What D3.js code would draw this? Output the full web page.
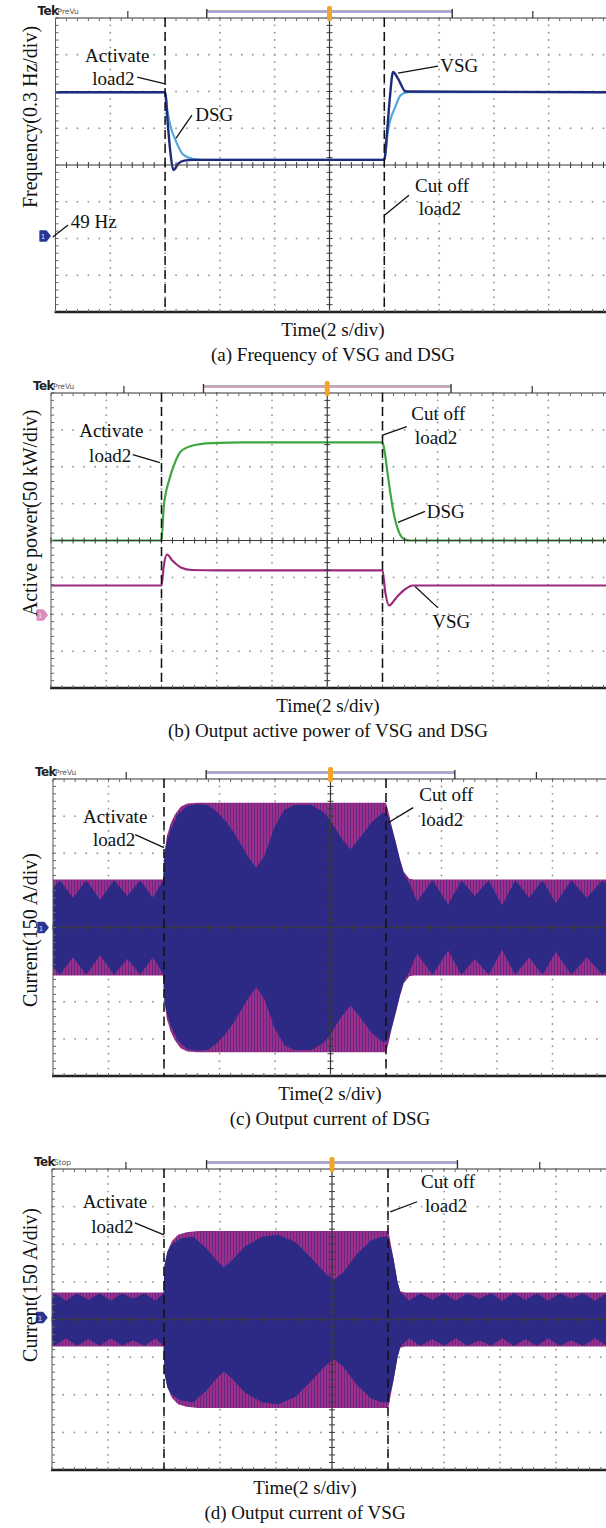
<!DOCTYPE html>
<html>
<head>
<meta charset="utf-8">
<script src="https://cdn.jsdelivr.net/npm/d3@7"></script>
<style>
  body { margin: 0; background: #fff; }
  text { font-family: "Liberation Serif", "Times New Roman", serif; }
</style>
</head>
<body>
<svg id="canvas" width="606" height="1528"></svg>
<script>
// time is in screen divisions (2 s/div), values in vertical divisions of each channel
// load2 is switched on at t = 2 div and off at t = 6 div
var events = [2, 6];

// (a) frequency, 0.3 Hz/div
var freqVSG = [[0,1.98],[2.0,1.98],[2.05,1.1],[2.1,0.3],[2.15,-0.14],[2.25,0.05],[2.35,0.12],[2.5,0.14],
  [6.0,0.14],[6.05,0.9],[6.1,1.8],[6.16,2.53],[6.25,2.35],[6.39,2.0],[10.2,1.98]];
var freqDSG = [[0,1.98],[2.0,1.98],[2.04,1.5],[2.1,1.05],[2.19,0.68],[2.32,0.3],[2.5,0.17],[2.7,0.14],
  [6.0,0.14],[6.07,0.95],[6.2,1.58],[6.3,1.9],[6.42,1.98],[10.2,1.98]];

// (b) active power, 50 kW/div
var powerDSG = [[0,0],[2.0,0],[2.04,0.9],[2.14,1.65],[2.24,2.1],[2.34,2.4],[2.55,2.57],[2.9,2.64],[3.5,2.66],
  [6.0,2.66],[6.04,2.4],[6.09,1.84],[6.2,0.76],[6.3,0.22],[6.4,0.03],[6.5,0],[10.2,0]];
var powerVSG = [[0,-1.22],[2.0,-1.22],[2.04,-0.7],[2.1,-0.38],[2.2,-0.55],[2.35,-0.73],[2.55,-0.8],[3.0,-0.81],
  [6.0,-0.81],[6.05,-1.4],[6.12,-1.76],[6.25,-1.55],[6.4,-1.33],[6.55,-1.22],[10.2,-1.22]];

// (c) DSG current, 150 A/div: outer envelope and the inner (beating) envelope
var curDSGouter = [[0,1.29],[2.0,1.29],[2.01,2.0],[2.05,2.45],[2.12,2.8],[2.2,3.05],[2.3,3.25],[2.42,3.34],[2.6,3.36],
  [6.0,3.36],[6.04,3.15],[6.1,2.75],[6.18,2.28],[6.25,1.85],[6.32,1.5],[6.42,1.31],[6.5,1.29],[10.2,1.29]];
var curDSGinner = [[0,1.05],[0.12,1.27],[0.36,0.8],[0.6,1.27],[0.85,0.75],[1.1,1.27],[1.34,0.85],[1.57,1.27],[1.8,0.8],[1.98,1.25],
  [2.01,2.0],[2.05,2.3],[2.12,2.63],[2.25,3.05],[2.43,3.28],[2.6,3.32],[2.79,3.3],[2.97,3.09],[3.12,2.85],[3.26,2.55],[3.4,2.2],
  [3.51,1.92],[3.66,1.61],[3.8,1.9],[3.9,2.3],[3.99,2.7],[4.17,3.17],[4.35,3.3],[4.66,3.3],[4.89,3.09],[5.02,2.82],[5.2,2.4],
  [5.36,2.1],[5.55,2.45],[5.75,2.85],[5.95,3.1],[6.03,3.05],[6.1,2.7],[6.18,2.25],[6.25,1.82],[6.32,1.45],[6.42,1.2],
  [6.56,0.7],[6.84,1.27],[7.12,0.62],[7.36,1.27],[7.6,0.85],[7.85,1.27],[8.09,0.6],[8.33,1.27],[8.58,0.8],[8.82,1.27],
  [9.06,0.65],[9.34,1.27],[9.62,0.8],[9.9,1.27],[10.2,0.9]];

// (d) VSG current, 150 A/div
var curVSGouter = [[0,0.72],[2.0,0.72],[2.01,1.45],[2.06,1.8],[2.14,2.08],[2.25,2.25],[2.4,2.32],[2.6,2.35],
  [6.0,2.35],[6.02,2.25],[6.1,1.6],[6.17,1.0],[6.22,0.75],[6.3,0.72],[10.2,0.72]];
var curVSGinner = [[0,0.6],[0.05,0.7],[0.25,0.5],[0.45,0.7],[0.65,0.52],[0.85,0.7],[1.05,0.5],[1.25,0.7],[1.45,0.55],[1.65,0.7],[1.85,0.5],[1.99,0.7],
  [2.01,1.45],[2.06,1.8],[2.14,2.0],[2.3,2.15],[2.52,2.2],[2.75,1.9],[2.95,1.55],[3.07,1.38],[3.2,1.55],[3.45,1.95],[3.75,2.2],
  [4.04,2.25],[4.35,2.05],[4.65,1.6],[4.9,1.2],[5.04,1.06],[5.2,1.25],[5.45,1.75],[5.7,2.1],[5.89,2.2],[6.0,2.2],
  [6.1,1.6],[6.17,1.0],[6.22,0.72],[6.38,0.5],[6.58,0.7],[6.79,0.52],[7.0,0.7],[7.21,0.5],[7.42,0.7],[7.63,0.55],[7.84,0.7],
  [8.04,0.5],[8.25,0.7],[8.45,0.52],[8.66,0.7],[8.86,0.5],[9.07,0.7],[9.27,0.55],[9.48,0.7],[9.7,0.5],[9.9,0.7],[10.2,0.55]];

// annotations: [text, t, v] and leader lines [t1, v1, t2, v2]
var aLabels = [['Activate',0.54,2.8],['load2',0.67,2.18],['DSG',2.55,1.2],['VSG',7.02,2.53],['Cut off',6.56,-0.73],['load2',6.63,-1.36],['49 Hz',0.28,-1.71]];
var aLeaders = [[1.49,2.39,2.02,2.2],[2.49,1.36,2.2,0.73],[6.98,2.69,6.25,2.5],[6.45,-0.82,6.01,-1.36],[0.23,-1.63,-0.05,-1.96]];
var bLabels = [['Activate',0.51,2.82],['load2',0.69,2.14],['Cut off',6.52,3.28],['load2',6.59,2.63],['DSG',6.8,0.6],['VSG',6.9,-2.38]];
var bLeaders = [[1.48,2.33,1.97,2.11],[6.44,3.09,5.99,2.85],[6.77,0.79,6.28,0.49],[7.0,-1.82,6.59,-1.25]];
var cLabels = [['Activate',0.54,2.82],['load2',0.72,2.2],['Cut off',6.6,3.41],['load2',6.63,2.74]];
var cLeaders = [[1.48,2.5,2.0,2.15],[6.49,3.23,6.04,2.82]];
var dLabels = [['Activate',0.55,2.97],['load2',0.7,2.3],['Cut off',6.59,3.5],['load2',6.66,2.86]];
var dLeaders = [[1.48,2.57,2.0,2.25],[6.52,3.13,6.04,2.86]];

// top bar of the scope: plain ticks and the record bracket, in divisions
var barTicks = [1.32, 8.71];
var bracket = [2.76, 7.24];

var panels = [
  { id: 'a', left: 55.5, divW: 54.8, top: 18, bottom: 312, status: 'PreVu', bracketColor: '#a8a8dc',
    ylabel: 'Frequency(0.3 Hz/div)', ylabelY: 117, capX: 333, caption: '(a) Frequency of VSG and DSG',
    lines: [{ data: freqDSG, color: '#4fa9db', w: 2.2 }, { data: freqVSG, color: '#1f2a7c', w: 2.4 }],
    marker: { t: -0.19, v: -1.93, color: '#2b3592' }, labels: aLabels, leaders: aLeaders },
  { id: 'b', left: 51, divW: 55.25, top: 393, bottom: 688, status: 'PreVu', bracketColor: '#d2a6c0',
    ylabel: 'Active power(50 kW/div)', ylabelY: 513, capX: 328, caption: '(b) Output active power of VSG and DSG',
    lines: [{ data: powerDSG, color: '#3da63f', w: 2.2 }, { data: powerVSG, color: '#9a2a7c', w: 2.2 }],
    marker: { t: -0.16, v: -2.02, color: '#dc8fbf' }, labels: bLabels, leaders: bLeaders },
  { id: 'c', left: 53, divW: 55.5, top: 779, bottom: 1076, status: 'PreVu', bracketColor: '#a8a8dc',
    ylabel: 'Current(150 A/div)', ylabelY: 930, capX: 330, caption: '(c) Output current of DSG',
    env: { outer: curDSGouter, inner: curDSGinner },
    marker: { t: -0.18, v: 0, color: '#2b3592' }, labels: cLabels, leaders: cLeaders },
  { id: 'd', left: 52, divW: 56, top: 1169, bottom: 1470, status: 'Stop', bracketColor: '#a8a8dc',
    ylabel: 'Current(150 A/div)', ylabelY: 1285, capX: 305, caption: '(d) Output current of VSG',
    env: { outer: curVSGouter, inner: curVSGinner },
    marker: { t: -0.18, v: 0.05, color: '#2b3592' }, labels: dLabels, leaders: dLeaders }
];

var svg = d3.select('#canvas');
var W = +svg.attr('width');
var defs = svg.append('defs');

// magenta/purple striping where the three phase currents beat
var pat = defs.append('pattern').attr('id', 'stripes')
  .attr('patternUnits', 'userSpaceOnUse').attr('width', 3).attr('height', 8);
pat.append('rect').attr('width', 3).attr('height', 8).attr('fill', '#9e2f88');
pat.append('rect').attr('x', 2).attr('width', 1).attr('height', 8).attr('fill', '#642a8a');

panels.forEach(drawPanel);

function drawPanel(p) {
  var x = d3.scaleLinear().domain([0, 10]).range([p.left, p.left + 10 * p.divW]);
  var y = d3.scaleLinear().domain([-4, 4]).range([p.bottom, p.top]);
  var g = svg.append('g');

  defs.append('clipPath').attr('id', 'clip-' + p.id).append('rect')
    .attr('x', p.left).attr('y', p.top).attr('width', W - p.left).attr('height', p.bottom - p.top);

  // dotted graticule
  var dots = [];
  d3.range(1, 10).forEach(function(i) {
    if (i === 5) return;
    d3.range(-20, 21).forEach(function(j) { dots.push([i, j / 5]); });
  });
  d3.range(-3, 4).forEach(function(j) {
    if (j === 0) return;
    d3.range(0, 51).forEach(function(i) { dots.push([i / 5, j]); });
  });
  g.append('g').selectAll('circle').data(dots).join('circle')
    .attr('cx', function(d) { return x(d[0]); })
    .attr('cy', function(d) { return y(d[1]); })
    .attr('r', 0.95).attr('fill', '#9a9a9a');

  var traces = g.append('g').attr('clip-path', 'url(#clip-' + p.id + ')');

  if (p.lines) {
    var line = d3.line()
      .x(function(d) { return x(d[0]); })
      .y(function(d) { return y(d[1]); })
      .curve(d3.curveMonotoneX);
    p.lines.forEach(function(s) {
      traces.append('path').attr('d', line(s.data))
        .attr('fill', 'none').attr('stroke', s.color).attr('stroke-width', s.w)
        .attr('stroke-linejoin', 'round');
    });
  }

  if (p.env) {
    var band = d3.area()
      .x(function(d) { return x(d[0]); })
      .y0(function(d) { return y(-d[1]); })
      .y1(function(d) { return y(d[1]); });
    traces.append('path').attr('d', band(p.env.outer)).attr('fill', 'url(#stripes)');
    traces.append('path').attr('d', band(p.env.inner)).attr('fill', '#2c2a84');
  }

  // centre cross with minor ticks
  var axisCol = '#3a3a3a';
  g.append('line').attr('x1', p.left).attr('x2', W).attr('y1', y(0)).attr('y2', y(0))
    .attr('stroke', axisCol).attr('stroke-width', 1.2);
  g.append('line').attr('x1', x(5)).attr('x2', x(5)).attr('y1', p.top).attr('y2', p.bottom)
    .attr('stroke', axisCol).attr('stroke-width', 1.2);
  var minorT = d3.range(0, 51).map(function(i) { return i / 5; });
  var minorV = d3.range(-20, 21).map(function(j) { return j / 5; });
  g.append('g').selectAll('line').data(minorT).join('line')
    .attr('x1', function(d) { return x(d); }).attr('x2', function(d) { return x(d); })
    .attr('y1', y(0) - 3).attr('y2', y(0) + 3).attr('stroke', axisCol).attr('stroke-width', 1);
  g.append('g').selectAll('line').data(minorV).join('line')
    .attr('y1', function(d) { return y(d); }).attr('y2', function(d) { return y(d); })
    .attr('x1', x(5) - 3).attr('x2', x(5) + 3).attr('stroke', axisCol).attr('stroke-width', 1);

  // frame: left edge and top edge with ticks, thick bottom edge
  g.append('line').attr('x1', p.left).attr('x2', p.left).attr('y1', p.top).attr('y2', p.bottom)
    .attr('stroke', '#555').attr('stroke-width', 1);
  g.append('g').selectAll('line').data(minorV).join('line')
    .attr('y1', function(d) { return y(d); }).attr('y2', function(d) { return y(d); })
    .attr('x1', p.left).attr('x2', p.left + 3).attr('stroke', '#666').attr('stroke-width', 1);
  g.append('line').attr('x1', p.left).attr('x2', W).attr('y1', p.top).attr('y2', p.top)
    .attr('stroke', '#333').attr('stroke-width', 1.2);
  g.append('g').selectAll('line').data(minorT).join('line')
    .attr('x1', function(d) { return x(d); }).attr('x2', function(d) { return x(d); })
    .attr('y1', p.top).attr('y2', p.top + 3).attr('stroke', '#666').attr('stroke-width', 1);
  g.append('line').attr('x1', p.left - 1).attr('x2', W).attr('y1', p.bottom).attr('y2', p.bottom)
    .attr('stroke', '#222').attr('stroke-width', 2.5);
  g.append('g').selectAll('line').data(minorT).join('line')
    .attr('x1', function(d) { return x(d); }).attr('x2', function(d) { return x(d); })
    .attr('y1', p.bottom - 3).attr('y2', p.bottom).attr('stroke', '#666').attr('stroke-width', 1);

  // load switching instants
  g.append('g').selectAll('line').data(events).join('line')
    .attr('x1', function(d) { return x(d); }).attr('x2', function(d) { return x(d); })
    .attr('y1', p.top).attr('y2', p.bottom)
    .attr('stroke', '#111').attr('stroke-width', 1.5).attr('stroke-dasharray', '9,5');

  // scope header
  g.append('text').attr('x', p.left - 18).attr('y', p.top - 3)
    .style('font-family', '"DejaVu Sans", sans-serif').style('font-weight', 'bold')
    .style('font-size', '12px').style('letter-spacing', '-0.6px').attr('fill', '#222').text('Tek');
  g.append('text').attr('x', p.left + 2).attr('y', p.top - 4)
    .style('font-family', '"DejaVu Sans", sans-serif').style('font-size', '7.5px')
    .attr('fill', '#555').text(p.status);
  g.append('g').selectAll('line').data(barTicks).join('line')
    .attr('x1', function(d) { return x(d); }).attr('x2', function(d) { return x(d); })
    .attr('y1', p.top).attr('y2', p.top - 7).attr('stroke', '#333').attr('stroke-width', 1.2);
  g.append('line').attr('x1', x(bracket[0])).attr('x2', x(bracket[1]))
    .attr('y1', p.top - 6).attr('y2', p.top - 6).attr('stroke', p.bracketColor).attr('stroke-width', 2.2);
  g.append('line').attr('x1', x(bracket[0])).attr('x2', x(bracket[1]))
    .attr('y1', p.top - 7.5).attr('y2', p.top - 7.5).attr('stroke', '#777').attr('stroke-width', 0.6);
  g.append('g').selectAll('line').data(bracket).join('line')
    .attr('x1', function(d) { return x(d); }).attr('x2', function(d) { return x(d); })
    .attr('y1', p.top).attr('y2', p.top - 9).attr('stroke', '#333').attr('stroke-width', 1.4);
  g.append('rect').attr('x', x(5) - 2.5).attr('y', p.top - 12).attr('width', 5).attr('height', 15)
    .attr('rx', 2).attr('fill', '#f2a52a');

  // channel ground marker
  var mx = x(p.marker.t), my = y(p.marker.v);
  g.append('path').attr('d', 'M-5,-5H1L5,0L1,5H-5Z').attr('transform', 'translate(' + mx + ',' + my + ')')
    .attr('fill', p.marker.color).attr('stroke', p.marker.color).attr('stroke-linejoin', 'round').attr('stroke-width', 1.5);
  g.append('text').attr('x', mx - 2).attr('y', my + 3)
    .style('font-family', '"DejaVu Sans", sans-serif').style('font-size', '7px')
    .attr('text-anchor', 'middle').attr('fill', '#dfe3ff').text('1');

  // annotations
  g.append('g').selectAll('line').data(p.leaders).join('line')
    .attr('x1', function(d) { return x(d[0]); }).attr('y1', function(d) { return y(d[1]); })
    .attr('x2', function(d) { return x(d[2]); }).attr('y2', function(d) { return y(d[3]); })
    .attr('stroke', '#111').attr('stroke-width', 1.3);
  g.append('g').selectAll('text').data(p.labels).join('text')
    .attr('x', function(d) { return x(d[1]); }).attr('y', function(d) { return y(d[2]); })
    .style('font-size', '19px').attr('fill', '#111').text(function(d) { return d[0]; });

  // axis titles and caption
  g.append('text').attr('transform', 'translate(30,' + p.ylabelY + ') rotate(-90)')
    .attr('text-anchor', 'middle').attr('dominant-baseline', 'central')
    .style('font-size', '20px').attr('fill', '#111').text(p.ylabel);
  g.append('text').attr('x', p.capX).attr('y', p.bottom + 24).attr('text-anchor', 'middle')
    .style('font-size', '19px').attr('fill', '#111').text('Time(2 s/div)');
  g.append('text').attr('x', p.capX).attr('y', p.bottom + 49).attr('text-anchor', 'middle')
    .style('font-size', '19px').attr('fill', '#111').text(p.caption);
}
</script>
</body>
</html>
